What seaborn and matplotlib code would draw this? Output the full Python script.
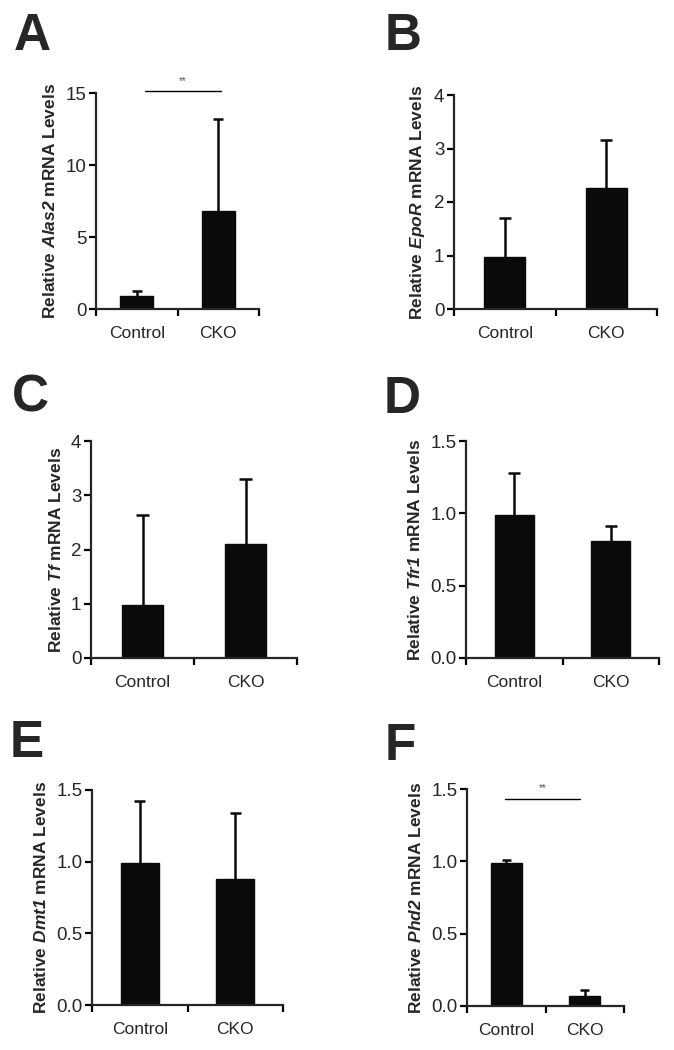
import numpy as np
import pandas as pd
import matplotlib.pyplot as plt
import seaborn as sns

# valores (media e topo da barra de erro)
groups = ['Control', 'CKO']
genes = ['Alas2', 'EpoR', 'Tf', 'Tfr1', 'Dmt1', 'Phd2']
panel_letters = ['A', 'B', 'C', 'D', 'E', 'F']

alas2_mean = [0.9, 6.8]
alas2_err = [0.35, 6.4]
epor_mean = [0.97, 2.27]
epor_err = [0.73, 0.88]
tf_mean = [0.97, 2.1]
tf_err = [1.66, 1.2]
tfr1_mean = [0.99, 0.81]
tfr1_err = [0.29, 0.10]
dmt1_mean = [0.99, 0.88]
dmt1_err = [0.43, 0.46]
phd2_mean = [0.99, 0.07]
phd2_err = [0.02, 0.04]

means = [alas2_mean, epor_mean, tf_mean, tfr1_mean, dmt1_mean, phd2_mean]
errs = [alas2_err, epor_err, tf_err, tfr1_err, dmt1_err, phd2_err]
ymax = [15, 4, 4, 1.5, 1.5, 1.5]
yticks = [[0, 5, 10, 15], [0, 1, 2, 3, 4], [0, 1, 2, 3, 4],
          [0.0, 0.5, 1.0, 1.5], [0.0, 0.5, 1.0, 1.5], [0.0, 0.5, 1.0, 1.5]]
decimals = [0, 0, 0, 1, 1, 1]

# marcas de significancia: painel -> (x0, x1, y_linha, y_texto)
signif = {0: (0.10, 1.03, 15.15, 15.5), 5: (-0.02, 0.94, 1.43, 1.47)}

sns.set_style('ticks')
plt.rcParams['font.family'] = ['Liberation Sans', 'DejaVu Sans']
plt.rcParams['mathtext.fontset'] = 'custom'
plt.rcParams['mathtext.it'] = 'Liberation Sans:italic:bold'
plt.rcParams['mathtext.rm'] = 'Liberation Sans:italic:bold'
plt.rcParams['mathtext.bf'] = 'Liberation Sans:italic:bold'

W, H = 674, 1050
fig = plt.figure(figsize=(W / 100, H / 100), dpi=100)

# caixas dos eixos em pixels (esquerda, direita, topo, base)
boxes = [(96, 259, 93, 309), (454, 657, 95, 309),
         (91, 297, 441, 658), (466, 659, 441, 658),
         (92, 283, 790, 1005), (467, 624, 789, 1006)]
letter_pos = [(14, 12), (385, 12), (12, 373), (384, 375), (10, 719), (385, 722)]
cap = 0.06

for i in range(6):
    l, r, t, b = boxes[i]
    ax = fig.add_axes([l / W, 1 - b / H, (r - l) / W, (b - t) / H])
    df = pd.DataFrame({'grupo': groups, 'valor': means[i]})
    sns.barplot(data=df, x='grupo', y='valor', ax=ax, color='#0a0a0a',
                saturation=1, width=0.4, errorbar=None, edgecolor='#0a0a0a')
    # barra de erro so para cima
    xs = np.arange(len(groups))
    tops = np.array(means[i]) + np.array(errs[i])
    ax.vlines(xs, means[i], tops, color='#0a0a0a', lw=1.8, zorder=1)
    ax.hlines(tops, xs - cap, xs + cap, color='#0a0a0a', lw=1.8, zorder=1)
    ax.set_xlim(-0.5, 1.5)
    ax.set_ylim(0, ymax[i])
    ax.set_yticks(yticks[i])
    ax.set_yticklabels([f'{v:.{decimals[i]}f}' for v in yticks[i]], fontsize=13.5)
    ax.set_xticks([-0.5, 0.5, 1.5])
    ax.set_xticklabels([])
    ax.set_xticks([0, 1], minor=True)
    ax.set_xticklabels(groups, minor=True, fontsize=12.5)
    ax.tick_params(axis='x', which='minor', length=0, pad=12)
    ax.tick_params(which='major', length=5, width=1.6, color='black')
    ax.tick_params(axis='y', pad=2)
    ax.set_xlabel('')
    ax.set_ylabel('Relative $\\mathrm{' + genes[i] + '}$ mRNA Levels',
                  fontsize=12.5, fontweight='bold', labelpad=5)
    for s in ['left', 'bottom']:
        ax.spines[s].set_linewidth(1.6)
    sns.despine(ax=ax)
    if i in signif:
        x0, x1, yl, yt = signif[i]
        ax.plot([x0, x1], [yl, yl], color='black', lw=1, clip_on=False)
        ax.text((x0 + x1) / 2, yt, '**', ha='center', va='bottom',
                fontsize=7, color='#555555', clip_on=False)
    lx, ly = letter_pos[i]
    fig.text(lx / W, 1 - ly / H, panel_letters[i], fontsize=37,
             fontweight='bold', ha='left', va='top')

plt.savefig('out.png', dpi=100)
